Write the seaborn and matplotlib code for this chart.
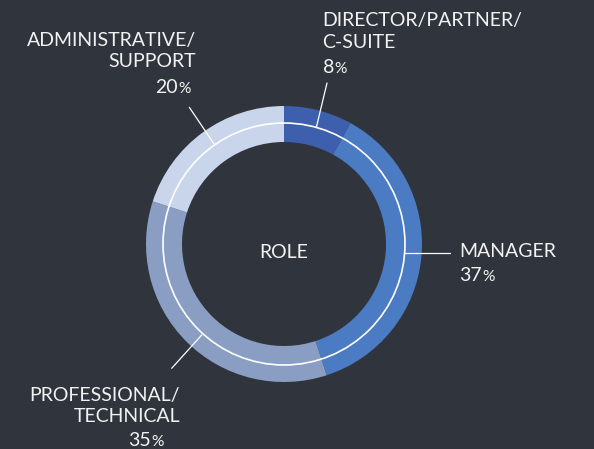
import matplotlib
matplotlib.use("Agg")
import matplotlib.pyplot as plt
import seaborn as sns
import numpy as np

# Datos del gráfico
roles = ["DIRECTOR/PARTNER/\nC-SUITE", "MANAGER", "PROFESSIONAL/\nTECHNICAL", "ADMINISTRATIVE/\nSUPPORT"]
shares = [8, 37, 35, 20]
colors = ["#3e5fad", "#4a7bc3", "#8a9ec3", "#c9d5ea"]

BG = "#30353d"
FG = "#f2f2f2"
W, H = 594, 449


def setup_style():
    sns.set_theme(style="dark")
    plt.rcParams['figure.facecolor'] = BG
    plt.rcParams['axes.facecolor'] = BG
    plt.rcParams['text.color'] = FG
    plt.rcParams['font.family'] = ['Lato', 'DejaVu Sans']


def py(y):
    # coordenadas en pixeles (y hacia abajo) -> datos
    return H - y


setup_style()
fig = plt.figure(figsize=(W / 100, H / 100), dpi=100)
ax = fig.add_axes([0, 0, 1, 1])

cx, cy = 284, py(244)
ax.pie(shares, radius=138, center=(cx, cy), startangle=90, counterclock=False,
       colors=sns.color_palette(colors), frame=True,
       wedgeprops=dict(width=36, linewidth=0))
ax.add_patch(plt.Circle((cx, cy), 121, fill=False, edgecolor="white", linewidth=1.2))

ax.set_xlim(0, W)
ax.set_ylim(0, H)
ax.set_aspect('equal')
ax.axis('off')

# lineas guía
leaders = [((327, 83), (316.5, 126.7)),
           ((450, 252.7), (405, 252.7)),
           ((171.7, 368.3), (201.7, 335)),
           ((189.3, 107.3), (214.3, 144.3))]
for (x0, y0), (x1, y1) in leaders:
    ax.plot([x0, x1], [py(y0), py(y1)], color="white", linewidth=0.9)

fs = 14
kw = dict(fontsize=fs, color=FG, fontweight='normal', va='baseline')

# etiquetas: (x, y línea 1, ha, y del porcentaje)
label_pos = [(322.5, 26, 'left', 73),
             (459.5, 257.3, 'left', 281),
             (180, 401, 'right', 446),
             (196, 45.7, 'right', 92.7)]
pct_x = [322.5, 459.5, 163.5, 191]

fig.canvas.draw()
renderer = fig.canvas.get_renderer()
for role, share, (x, y, ha, yp), xp in zip(roles, shares, label_pos, pct_x):
    lines = role.split("\n")
    for i, line in enumerate(lines):
        ax.text(x, py(y + i * 21.5), line, ha=ha, **kw)
    # número grande y "%" más pequeño
    if ha == 'left':
        t = ax.text(xp, py(yp), str(share), ha='left', **kw)
        bb = t.get_window_extent(renderer)
        ax.text(bb.x1 + 0.5, py(yp), "%", ha='left', **{**kw, 'fontsize': fs * 0.8})
    else:
        t = ax.text(xp, py(yp), "%", ha='right', **{**kw, 'fontsize': fs * 0.8})
        bb = t.get_window_extent(renderer)
        ax.text(bb.x0 - 0.5, py(yp), str(share), ha='right', **kw)

ax.text(cx, py(257.5), "ROLE", ha='center', **kw)

plt.savefig("out.png", dpi=100, facecolor=BG)
plt.close()
